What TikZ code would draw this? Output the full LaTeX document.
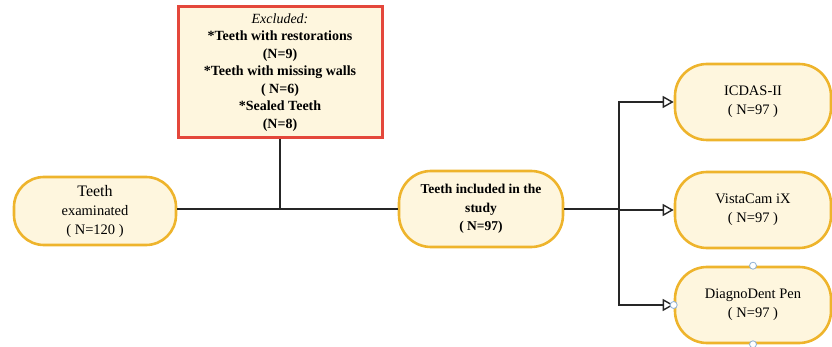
\documentclass[tikz,border=0pt]{standalone}
\usepackage{fontspec}
\setmainfont{Liberation Serif}
\usetikzlibrary{arrows.meta}
\definecolor{cream}{HTML}{FEF6DE}
\definecolor{gold}{HTML}{EEB42C}
\definecolor{redb}{HTML}{E4473B}
\definecolor{handle}{HTML}{8FB3D6}
\tikzset{
  pill/.style={draw=gold, line width=2.6pt, fill=cream, rounded corners=32pt,
    align=center, inner sep=0pt, font=\fontsize{14.5}{19}\selectfont},
  exbox/.style={draw=redb, line width=3pt, fill=cream, align=center, inner sep=0pt,
    font=\fontsize{14}{17.5}\selectfont\bfseries},
  conn/.style={line width=1.6pt, black!85},
  arr/.style={conn, -{Triangle[open, length=11pt, width=12pt, line width=1.4pt]}},
  hdl/.style={draw=handle, fill=white, line width=0.8pt, circle, inner sep=0pt, minimum size=7pt}
}
\begin{document}
\begin{tikzpicture}[x=1pt, y=-1pt]
\useasboundingbox (0,0) rectangle (832,347);
\node[exbox, minimum width=204pt, minimum height=131pt] (excl) at (280,72.5)
  {\textit{\mdseries Excluded:}\\ *Teeth with restorations\\ (N=9)\\ *Teeth with missing walls\\ ( N=6)\\ *Sealed Teeth\\ (N=8)};
\node[pill, rounded corners=30pt, minimum width=162pt, minimum height=68pt] (exam) at (95,211)
  {{\fontsize{16}{19}\selectfont Teeth}\\ examinated\\ ( N=120 )};
\node[pill, font=\fontsize{13.5}{18.5}\selectfont\bfseries, minimum width=164pt, minimum height=76pt] (incl) at (481,209)
  {Teeth included in the\\ study\\ ( N=97)};
\node[pill, minimum width=156pt, minimum height=76pt] (icdas) at (753,102)
  {ICDAS-II\\ ( N=97 )};
\node[pill, minimum width=156pt, minimum height=76pt] (vista) at (753,210)
  {VistaCam iX\\ ( N=97 )};
\node[pill, minimum width=156pt, minimum height=76pt] (diag) at (753,305)
  {DiagnoDent Pen\\ ( N=97 )};
\coordinate (j) at (619,210);
\draw[conn] (exam.east |- 0,209) -- (incl.west);
\draw[conn] (excl.south) -- (excl.south |- incl.west);
\draw[conn] (incl.east) -- (incl.east -| j) -- (j);
\draw[arr] (j) |- (icdas.west);
\draw[arr] (j) -- (vista.west);
\draw[arr] (j) |- (diag.west);
\node[hdl] (h1) at (diag.north) {};
\node[hdl] (h2) at (diag.west) {};
\node[hdl] (h3) at (diag.south) {};
\end{tikzpicture}
\end{document}
